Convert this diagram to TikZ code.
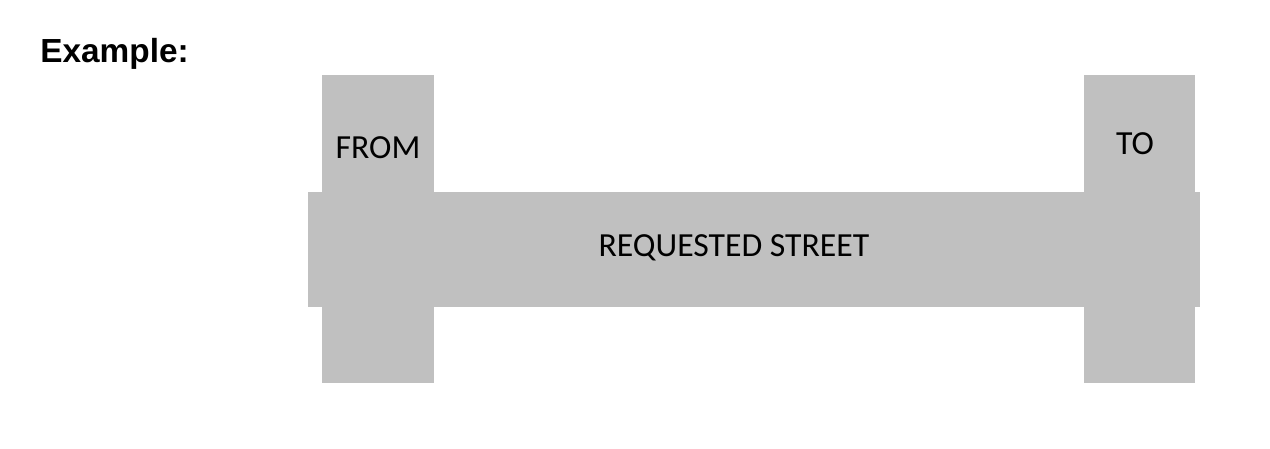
\documentclass[tikz,border=0pt]{standalone}
\usepackage{fontspec}
\setmainfont{Carlito}
\newfontfamily\headfont{Liberation Sans}
\definecolor{streetgray}{RGB}{192,192,192}

\begin{document}
\begin{tikzpicture}[x=0.02cm,y=-0.02cm,
    label/.style={inner sep=0pt,font=\fontsize{19.2}{21}\selectfont}]
  \useasboundingbox (0,0) rectangle (1270,449);
  \node[anchor=base west,inner sep=0pt,font=\headfont\bfseries\fontsize{19}{22}\selectfont]
    (title) at (40,63) {Example:};
  \begin{scope}[fill=streetgray]
  \fill (322,75) rectangle (434,383);
  \fill (1084,75) rectangle (1195,383);
  \fill (308,192) rectangle (1200,307);
  \end{scope}
  \node[label] (from) at (378,148) {FROM};
  \node[label] (to) at (1135,144) {TO};
  \node[label] (street) at (734,248) {REQUESTED STREET};
\end{tikzpicture}
\end{document}
